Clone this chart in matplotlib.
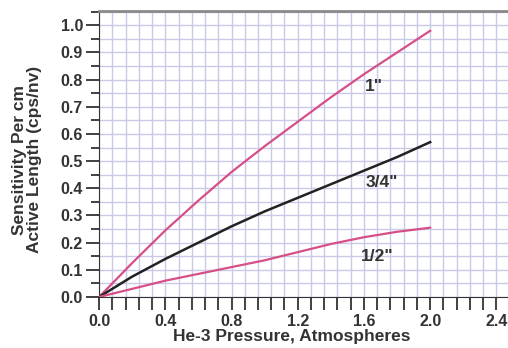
import numpy as np
import matplotlib
matplotlib.use("Agg")
import matplotlib.pyplot as plt
from matplotlib.ticker import MultipleLocator, FormatStrFormatter

plt.rcParams['font.family'] = ['Liberation Sans', 'DejaVu Sans']

# He-3 pressure (atm) and sensitivity per cm of active length (cps/nv)
pressure = [0.0, 0.2, 0.4, 0.6, 0.8, 1.0, 1.2, 1.4, 1.6, 1.8, 2.0]
sens_1in = [0.0, 0.125, 0.245, 0.355, 0.46, 0.555, 0.645, 0.735, 0.82, 0.90, 0.98]
sens_34in = [0.0, 0.075, 0.14, 0.20, 0.26, 0.315, 0.365, 0.415, 0.465, 0.515, 0.57]
sens_12in = [0.0, 0.03, 0.06, 0.085, 0.11, 0.135, 0.165, 0.195, 0.22, 0.24, 0.255]

curve_labels = ['1"', '3/4"', '1/2"']
label_pos = [(1.66, 0.773), (1.71, 0.42), (1.68, 0.15)]

pink = "#d64f87"
dark = "#333333"
grid_col = "#c9c9e8"

fig = plt.figure(figsize=(5.08, 3.48), dpi=100)
ax = fig.add_axes([0.195, 0.1466, 0.805, 0.822])

ax.plot(pressure, sens_1in, color=pink, linewidth=1.6, zorder=3)
ax.plot(pressure, sens_34in, color="#222222", linewidth=1.8, zorder=3)
ax.plot(pressure, sens_12in, color=pink, linewidth=1.6, zorder=3)

for txt, (x, y) in zip(curve_labels, label_pos):
    ax.text(x, y, txt, fontsize=12.5, fontweight="bold", color=dark,
            ha="center", va="center", zorder=4)

ax.set_xlim(0, 2.47)
ax.set_ylim(0, 1.053)
ax.xaxis.set_major_locator(MultipleLocator(0.4))
ax.xaxis.set_minor_locator(MultipleLocator(0.08))
ax.yaxis.set_major_locator(MultipleLocator(0.1))
ax.yaxis.set_minor_locator(MultipleLocator(0.05))
ax.xaxis.set_major_formatter(FormatStrFormatter("%.1f"))
ax.yaxis.set_major_formatter(FormatStrFormatter("%.1f"))

ax.grid(True, which="both", color=grid_col, linewidth=1.0)
ax.set_axisbelow(True)

ax.tick_params(axis="x", which="both", direction="out", length=9.5, width=1.3,
               color=dark, labelsize=11.5, labelcolor=dark, pad=3)
ax.tick_params(axis="y", which="major", direction="out", length=9.5, width=1.3,
               color=dark, labelsize=11.5, labelcolor=dark, pad=2)
ax.tick_params(axis="y", which="minor", direction="out", length=6, width=1.3,
               color=dark)
for lab in ax.get_xticklabels() + ax.get_yticklabels():
    lab.set_fontweight("bold")

ax.spines["right"].set_visible(False)
ax.spines["top"].set_color("#8a8a8a")
ax.spines["top"].set_linewidth(2)
ax.spines["left"].set_color(dark)
ax.spines["bottom"].set_color(dark)

ax.set_xlabel("He-3 Pressure, Atmospheres", fontsize=12.5, fontweight="bold",
              color=dark)
ax.xaxis.set_label_coords(0.47, -0.112)
ax.set_ylabel("Sensitivity Per cm\nActive Length (cps/nv)", fontsize=12.5,
              fontweight="bold", color=dark, linespacing=1.0)
ax.yaxis.set_label_coords(-0.139, 0.48)

fig.savefig("out.png", dpi=100)
